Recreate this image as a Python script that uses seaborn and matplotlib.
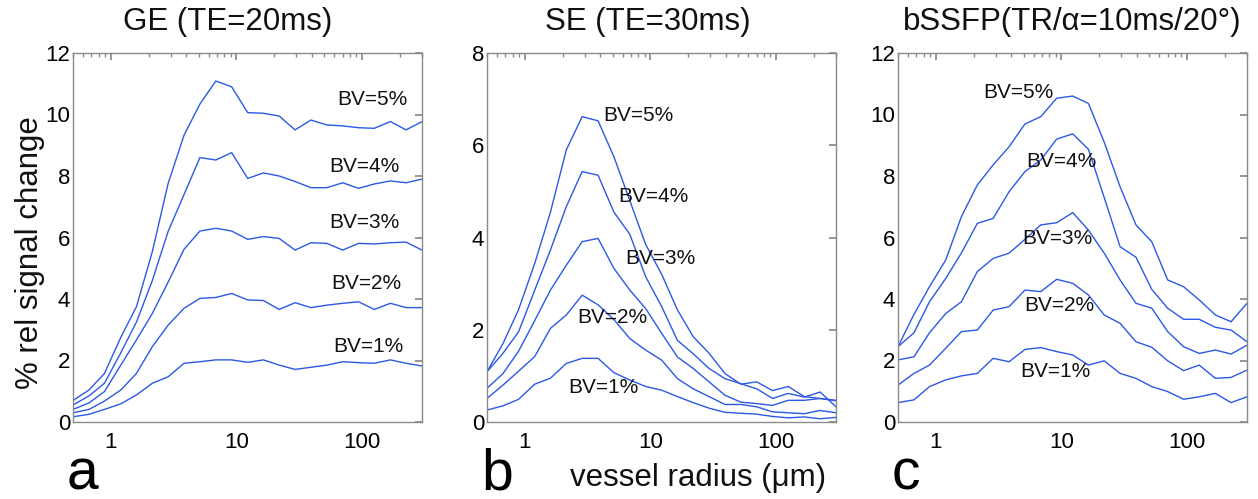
import pandas as pd
import seaborn as sns
import matplotlib.pyplot as plt
from matplotlib.ticker import LogLocator, NullFormatter

# vessel radius (um), sampled points along each curve
radius = [0.5, 0.67, 0.89, 1.2, 1.6, 2.14, 2.86, 3.83, 5.12, 6.85, 9.16, 12.3, 16.4,
          21.9, 29.3, 39.2, 52.4, 70.1, 93.8, 125, 168, 224, 300]
bv_levels = ["BV=5%", "BV=4%", "BV=3%", "BV=2%", "BV=1%"]

# GE (TE=20ms)
ge_bv5 = [0.70, 1.04, 1.58, 2.75, 3.75, 5.54, 7.76, 9.33, 10.34, 11.09, 10.90, 10.06, 10.04,
          9.95, 9.50, 9.82, 9.66, 9.63, 9.57, 9.55, 9.77, 9.50, 9.77]
ge_bv4 = [0.55, 0.85, 1.26, 2.25, 3.25, 4.60, 6.20, 7.40, 8.60, 8.52, 8.76, 7.92, 8.10,
          8.00, 7.82, 7.62, 7.62, 7.78, 7.60, 7.74, 7.84, 7.78, 7.90]
ge_bv3 = [0.41, 0.62, 0.99, 1.85, 2.67, 3.53, 4.55, 5.62, 6.21, 6.30, 6.21, 5.94, 6.03,
          5.97, 5.59, 5.83, 5.81, 5.59, 5.81, 5.79, 5.83, 5.85, 5.59]
ge_bv2 = [0.30, 0.41, 0.68, 1.04, 1.58, 2.45, 3.15, 3.70, 4.02, 4.05, 4.18, 3.97, 3.95,
          3.66, 3.88, 3.72, 3.80, 3.86, 3.91, 3.66, 3.86, 3.72, 3.72]
ge_bv1 = [0.17, 0.25, 0.41, 0.59, 0.88, 1.26, 1.47, 1.91, 1.96, 2.02, 2.02, 1.94, 2.02,
          1.85, 1.71, 1.78, 1.85, 1.96, 1.93, 1.91, 2.02, 1.91, 1.82]

# SE (TE=30ms)
se_bv5 = [1.09, 1.70, 2.43, 3.44, 4.55, 5.90, 6.62, 6.53, 5.75, 4.80, 3.85, 3.20, 2.43,
          1.85, 1.49, 1.05, 0.82, 0.87, 0.68, 0.77, 0.55, 0.51, 0.46]
se_bv4 = [1.09, 1.49, 1.95, 2.86, 3.73, 4.67, 5.43, 5.35, 4.55, 4.07, 3.15, 2.50, 1.77,
          1.48, 1.16, 0.94, 0.83, 0.72, 0.51, 0.62, 0.54, 0.65, 0.33]
se_bv3 = [0.73, 1.05, 1.53, 2.20, 2.86, 3.40, 3.91, 3.98, 3.33, 2.86, 2.46, 1.92, 1.41,
          1.16, 0.87, 0.58, 0.43, 0.40, 0.36, 0.47, 0.47, 0.51, 0.47]
se_bv2 = [0.51, 0.80, 1.10, 1.42, 2.03, 2.32, 2.75, 2.54, 2.22, 1.81, 1.56, 1.34, 0.94,
          0.72, 0.55, 0.38, 0.38, 0.33, 0.22, 0.20, 0.18, 0.25, 0.20]
se_bv1 = [0.26, 0.35, 0.49, 0.82, 0.95, 1.27, 1.38, 1.38, 1.07, 0.91, 0.77, 0.69, 0.55,
          0.42, 0.30, 0.21, 0.19, 0.17, 0.12, 0.09, 0.11, 0.07, 0.10]

# bSSFP (TR/alpha = 10ms/20deg)
ss_bv5 = [2.45, 3.50, 4.40, 5.27, 6.68, 7.71, 8.36, 8.95, 9.69, 9.93, 10.53, 10.60, 10.36,
          9.10, 7.65, 6.41, 5.86, 4.62, 4.40, 3.97, 3.48, 3.26, 3.86]
ss_bv4 = [2.45, 2.90, 3.91, 4.67, 5.50, 6.46, 6.62, 7.49, 8.14, 8.52, 9.20, 9.37, 8.87,
          7.30, 5.70, 5.36, 4.31, 3.70, 3.34, 3.34, 3.08, 2.99, 2.61]
ss_bv3 = [2.02, 2.12, 2.90, 3.53, 3.91, 4.89, 5.32, 5.49, 5.94, 6.41, 6.48, 6.81, 6.24,
          5.49, 4.62, 3.86, 3.70, 2.94, 2.45, 2.23, 2.34, 2.21, 2.50]
ss_bv2 = [1.20, 1.58, 1.85, 2.40, 2.94, 2.99, 3.64, 3.75, 4.29, 4.24, 4.64, 4.51, 4.13,
          3.48, 3.21, 2.61, 2.43, 1.99, 1.67, 1.85, 1.42, 1.45, 1.69]
ss_bv1 = [0.63, 0.72, 1.15, 1.37, 1.50, 1.58, 2.07, 1.96, 2.36, 2.42, 2.29, 2.18, 1.85,
          1.99, 1.58, 1.42, 1.15, 0.99, 0.74, 0.82, 0.93, 0.63, 0.82]


def long_table(curves):
    # one row per (curve, radius) so seaborn can split by hue
    rows = []
    for bv, vals in zip(bv_levels, curves):
        for r, v in zip(radius, vals):
            rows.append({"radius": r, "signal": v, "bv": bv})
    return pd.DataFrame(rows)


sns.set_theme(style="white")
plt.rcParams['font.family'] = ['Liberation Sans', 'DejaVu Sans']

blue = "#2b59e6"
frame = "#8a8a8a"

panels = [
    {"curves": [ge_bv5, ge_bv4, ge_bv3, ge_bv2, ge_bv1], "title": "GE (TE=20ms)", "tx": 0.443,
     "ymax": 12, "left": 73, "letter": "a",
     "labels": [(120, 10.5), (105, 8.3), (105, 6.5), (108, 4.5), (112, 2.45)]},
    {"curves": [se_bv5, se_bv4, se_bv3, se_bv2, se_bv1], "title": "SE (TE=30ms)", "tx": 0.46,
     "ymax": 8, "left": 487, "letter": "b",
     "labels": [(8.0, 6.65), (10.5, 4.88), (12.0, 3.54), (5.0, 2.26), (4.2, 0.74)]},
    {"curves": [ss_bv5, ss_bv4, ss_bv3, ss_bv2, ss_bv1], "title": "bSSFP(TR/\u03b1=10ms/20\u00b0)", "tx": 0.5,
     "ymax": 12, "left": 898, "letter": "c",
     "labels": [(4.55, 10.73), (10.0, 8.46), (9.3, 5.98), (9.6, 3.8), (9.0, 1.63)]},
]

W, H = 1258, 499
fig = plt.figure(figsize=(W / 100, H / 100), dpi=100)

for i, p in enumerate(panels):
    ax = fig.add_axes([p["left"] / W, 77 / H, 349 / W, 369 / H])
    df = long_table(p["curves"])
    sns.lineplot(data=df, x="radius", y="signal", hue="bv", palette=[blue] * 5,
                 legend=False, linewidth=1.0, ax=ax)
    ax.set_xscale("log")
    ax.set_xlim(0.5, 300)
    ax.set_ylim(0, p["ymax"])
    ax.set_xticks([1, 10, 100])
    ax.set_xticklabels(["1", "10", "100"])
    ax.xaxis.set_minor_locator(LogLocator(base=10, subs=range(2, 10)))
    ax.xaxis.set_minor_formatter(NullFormatter())
    ax.set_yticks(range(0, p["ymax"] + 1, 2))
    ax.tick_params(which="both", direction="in", top=True, right=True,
                   color=frame, labelcolor="black", labelsize=16)
    ax.tick_params(axis="x", which="major", length=5, pad=7)
    ax.tick_params(axis="x", which="minor", length=3)
    ax.tick_params(axis="y", length=5, pad=2)
    ax.set_xlabel("")
    ax.set_ylabel("")
    for sp in ax.spines.values():
        sp.set_color(frame)
        sp.set_linewidth(1.0)

    for bv, (lx, ly) in zip(bv_levels, p["labels"]):
        ax.text(lx, ly, bv, fontsize=15, ha="center", va="center", color="#111111")

    ax.text(p["tx"], 1.083, p["title"], transform=ax.transAxes, fontsize=22.5,
            ha="center", va="center", color="#111111")
    fig.text((p["left"] - 6) / W, 1 - 489 / H, p["letter"], fontsize=41,
             ha="left", va="baseline", color="black")

    if i == 0:
        ax.text(-0.123, 0.458, "% rel signal change", transform=ax.transAxes,
                rotation=90, fontsize=22.5, ha="center", va="center", color="#111111")
    if i == 1:
        ax.text(0.606, -0.152, "vessel radius (\u03bcm)", transform=ax.transAxes,
                fontsize=22.5, ha="center", va="center", color="#111111")

fig.savefig("out.png", dpi=100)
